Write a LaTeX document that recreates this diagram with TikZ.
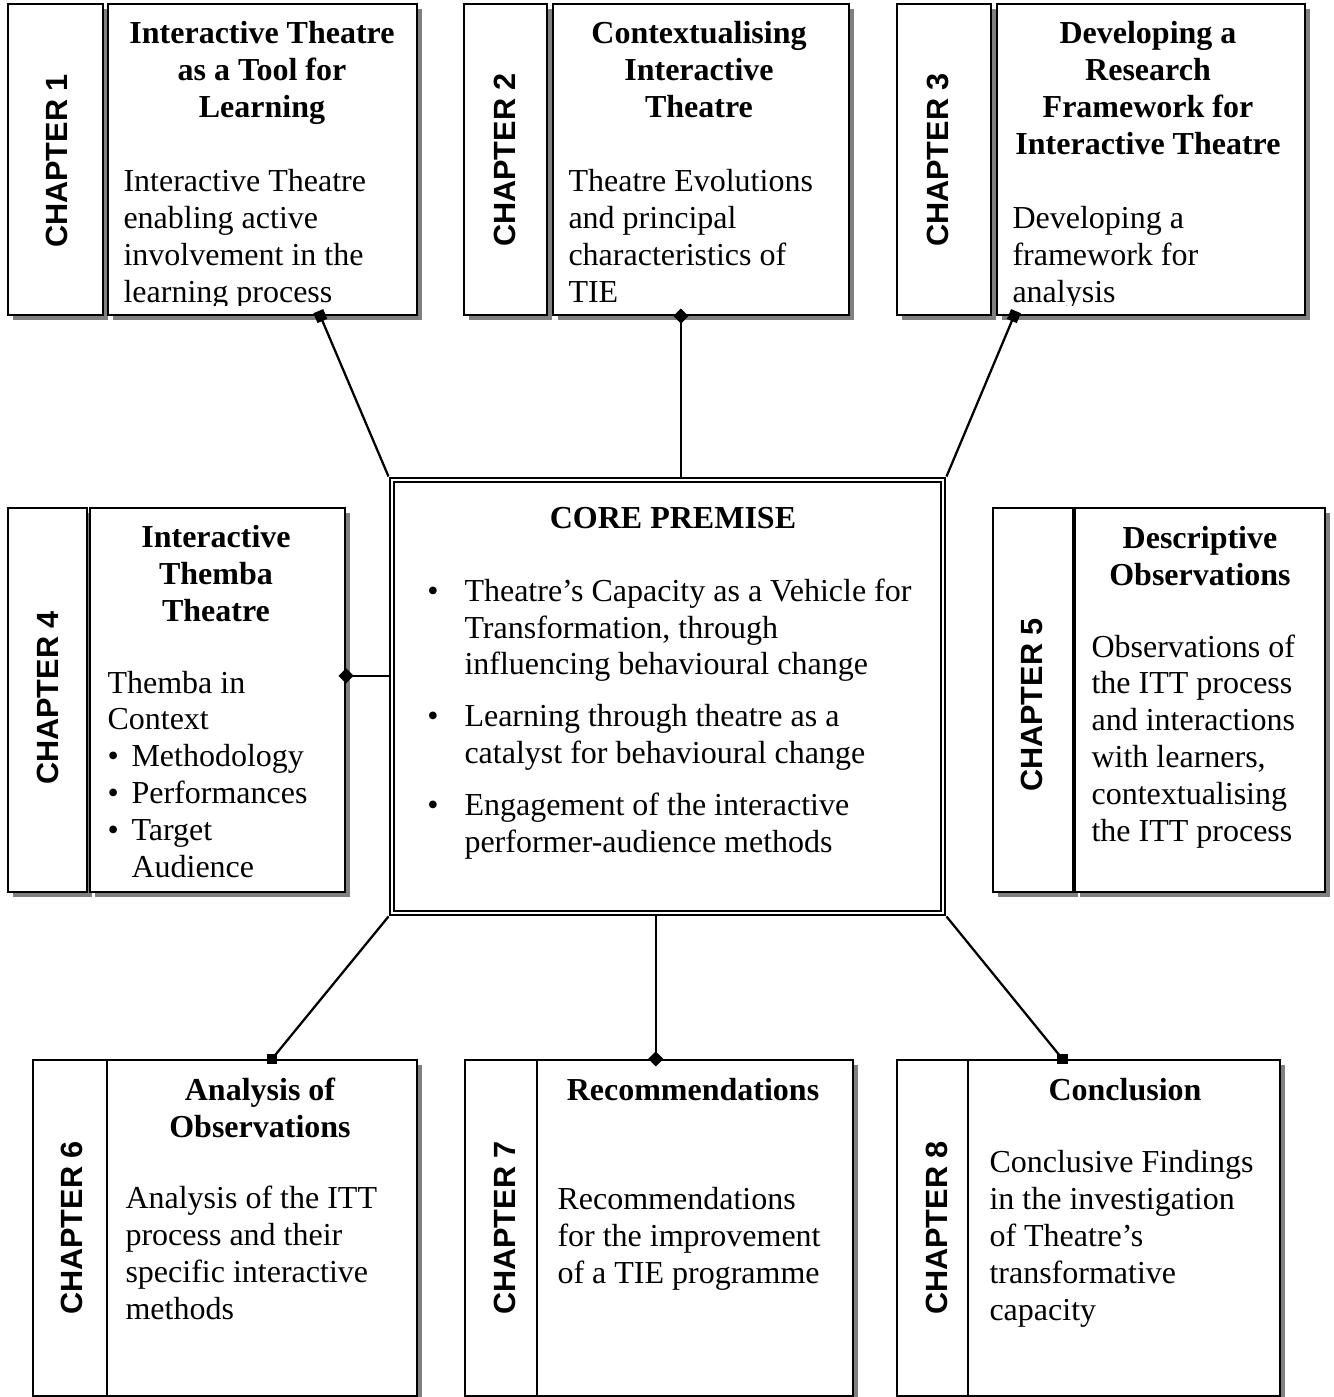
\documentclass[tikz,border=0pt]{standalone}
\usepackage{fontspec}
\setmainfont{Liberation Serif}
\newfontfamily\chapfam{Liberation Sans}
\usetikzlibrary{fit,calc,shadows}
\pgfdeclarelayer{background}
\pgfsetlayers{background,main}
\newcommand\bodysz{\fontsize{12}{13.8}\selectfont}
\newcommand\chapsz{\chapfam\bfseries\fontsize{11.5}{13}\selectfont}
\tikzset{
  box/.style={draw, line width=0.8pt, fill=white, inner sep=0pt,
    drop shadow={shadow xshift=1.9pt, shadow yshift=-1.9pt, fill=black!50, opacity=1}},
  corebox/.style={draw, line width=1.1pt, fill=white, inner sep=0pt},
  chap/.style={rotate=90, font=\chapsz, inner sep=0pt},
  ttl/.style={font=\bodysz\bfseries, align=center, anchor=base, inner sep=0pt},
  body/.style={font=\bodysz, align=left, anchor=base west, inner sep=0pt},
  mk/.style={fill, inner sep=0pt, minimum size=4pt},
  link/.style={line width=0.85pt}
}
\begin{document}
\begin{tikzpicture}[x=0.375pt,y=-0.375pt]
\useasboundingbox[fill=white] (0,0) rectangle (1333,1397);

% ---------- boxes ----------
\node[box, fit={(8,4) (103,315)}] (c1n) {};
\node[box, fit={(108,4) (417,315)}] (c1m) {};
\node[box, fit={(464,4) (547,315)}] (c2n) {};
\node[box, fit={(553,4) (849,315)}] (c2m) {};
\node[box, fit={(897,4) (991,315)}] (c3n) {};
\node[box, fit={(997,4) (1305,315)}] (c3m) {};
\node[box, fit={(8,508) (87,892)}] (c4n) {};
\node[box, fit={(90,508) (345,892)}] (c4m) {};
\node[box, fit={(993,508) (1073,892)}] (c5n) {};
\node[box, fit={(1075,508) (1325,892)}] (c5m) {};
\node[box, fit={(33,1060) (107,1396)}] (c6n) {};
\node[box, fit={(107,1060) (417,1396)}] (c6m) {};
\node[box, fit={(465,1060) (537,1396)}] (c7n) {};
\node[box, fit={(537,1060) (853,1396)}] (c7m) {};
\node[box, fit={(897,1060) (968,1396)}] (c8n) {};
\node[box, fit={(968,1060) (1280,1396)}] (c8m) {};

\node[corebox, fit={(390,478) (945,915)}] (core) {};
\draw[line width=0.75pt] ([shift={(2.1pt,-2.1pt)}]core.north west) rectangle ([shift={(-2.1pt,2.1pt)}]core.south east);

% ---------- chapter labels ----------
\node[chap] (l1) at (57,161) {CHAPTER 1};
\node[chap] (l2) at (505,160) {CHAPTER 2};
\node[chap] (l3) at (938,160) {CHAPTER 3};
\node[chap] (l4) at (48,698) {CHAPTER 4};
\node[chap] (l5) at (1032,705) {CHAPTER 5};
\node[chap] (l6) at (72,1228) {CHAPTER 6};
\node[chap] (l7) at (505,1228) {CHAPTER 7};
\node[chap] (l8) at (937,1228) {CHAPTER 8};

% ---------- titles (anchor = baseline of last line) ----------
\node[ttl] (t1) at (262,117) {Interactive Theatre\\as a Tool for\\Learning};
\node[ttl] (t2) at (699,117) {Contextualising\\Interactive\\Theatre};
\node[ttl] (t3) at (1148,154) {Developing a\\Research\\Framework for\\Interactive Theatre};
\node[ttl] (t4) at (216,621) {Interactive\\Themba\\Theatre};
\node[ttl] (t5) at (1200,585) {Descriptive\\Observations};
\node[ttl] (t6) at (260,1137) {Analysis of\\Observations};
\node[ttl] (t7) at (693,1100) {Recommendations};
\node[ttl] (t8) at (1125,1100) {Conclusion};
\node[ttl] (t0) at (673,528) {CORE PREMISE};

% ---------- body texts (anchor = baseline of last line) ----------
\begin{scope}
\clip (c1m.north west) rectangle ($(c1m.south east)+(0,-11)$);
\node[body] (b1) at (123,302) {Interactive Theatre\\enabling active\\involvement in the\\learning process};
\end{scope}
\begin{scope}
\clip (c2m.north west) rectangle ($(c2m.south east)+(0,-11)$);
\node[body] (b2) at (568,302) {Theatre Evolutions\\and principal\\characteristics of\\TIE};
\end{scope}
\begin{scope}
\clip (c3m.north west) rectangle ($(c3m.south east)+(0,-11)$);
\node[body] (b3) at (1012,302) {Developing a\\framework for\\analysis};
\end{scope}
\node[body] (b4) at (107,877) {Themba in\\Context\\\textbullet\hspace*{4.8pt}Methodology\\\textbullet\hspace*{4.8pt}Performances\\\textbullet\hspace*{4.8pt}Target\\\hspace*{9pt}Audience};
\node[body] (b5) at (1091,841) {Observations of\\the ITT process\\and interactions\\with learners,\\contextualising\\the ITT process};
\node[body] (b6) at (125,1319) {Analysis of the ITT\\process and their\\specific interactive\\methods};
\node[body] (b7) at (557,1283) {Recommendations\\for the improvement\\of a TIE programme};
\node[body] (b8) at (989,1320) {Conclusive Findings\\in the investigation\\of Theatre's\\transformative\\capacity};
\node[body] (b0) at (464,852) {\llap{\textbullet\hspace*{9.75pt}}Theatre's Capacity as a Vehicle for\\Transformation, through\\influencing behavioural change\\[5.6pt]\llap{\textbullet\hspace*{9.75pt}}Learning through theatre as a\\catalyst for behavioural change\\[5.6pt]\llap{\textbullet\hspace*{9.75pt}}Engagement of the interactive\\performer-audience methods};

% ---------- connectors ----------
\coordinate (e1) at ($(c1m.south west)!0.686!(c1m.south east)$);
\draw[link] (core.north west) -- (e1) node[mk, pos=1, sloped] {};

\coordinate (k2) at ($(core.north west)!0.524!(core.north east)$);
\draw[link] (k2) -- (k2 |- c2m.south) node[mk, pos=1, rotate=45] {};

\coordinate (e3) at ($(c3m.south west)!0.058!(c3m.south east)$);
\draw[link] (core.north east) -- (e3) node[mk, pos=1, sloped] {};

\coordinate (k4) at ($(core.north west)!0.453!(core.south west)$);
\draw[link] (k4) -- (k4 -| c4m.east) node[mk, pos=1, rotate=45] {};

\coordinate (k5) at ($(core.north east)!0.453!(core.south east)$);
\begin{pgfonlayer}{background}
\draw[link] (k5) -- (k5 -| c5n.west) node[mk, pos=1, rotate=45, minimum size=4.4pt] {};
\end{pgfonlayer}

\coordinate (e6) at ($(c6m.north west)!0.532!(c6m.north east)$);
\draw[link] (core.south west) -- (e6) node[mk, pos=1] {};

\coordinate (k7) at ($(core.south west)!0.479!(core.south east)$);
\draw[link] (k7) -- (k7 |- c7m.north) node[mk, pos=1, rotate=45] {};

\coordinate (e8) at ($(c8m.north west)!0.304!(c8m.north east)$);
\draw[link] (core.south east) -- (e8) node[mk, pos=1] {};
\end{tikzpicture}
\end{document}
